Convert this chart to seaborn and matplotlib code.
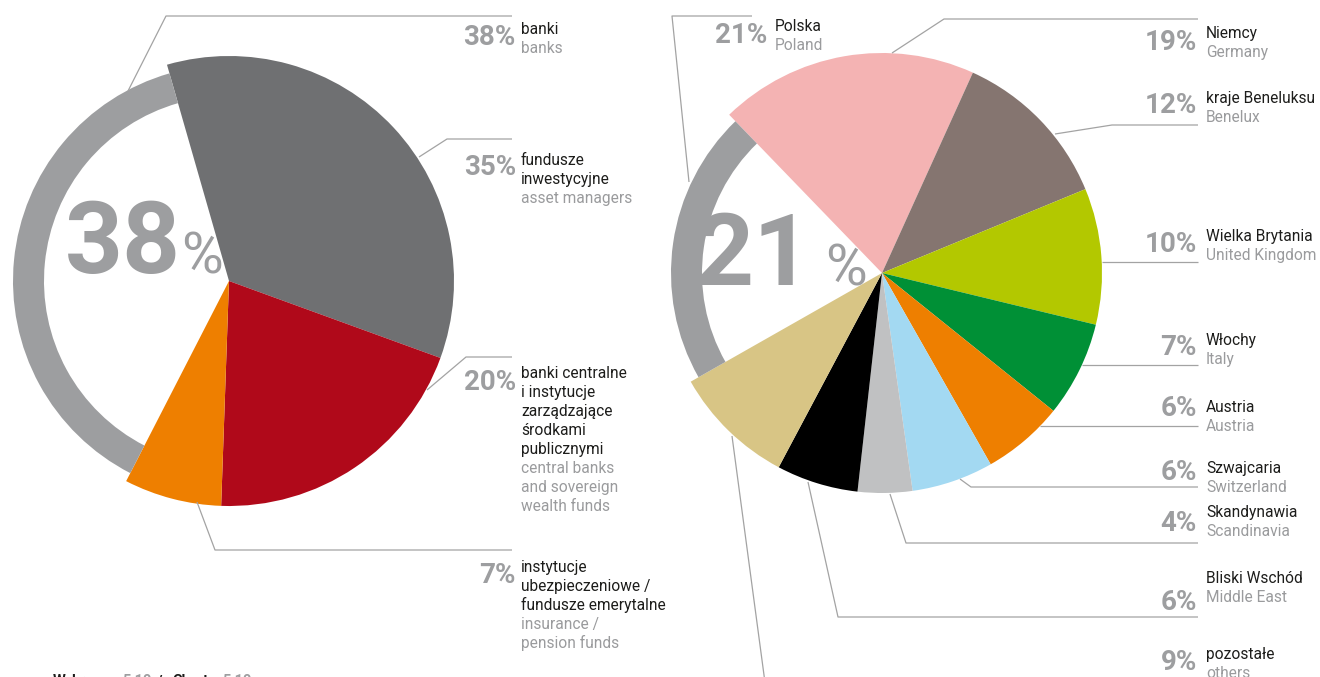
import matplotlib
matplotlib.use("Agg")
import matplotlib.pyplot as plt
import seaborn as sns

sns.set_theme(style="white")
plt.rcParams["font.family"] = ["Roboto", "DejaVu Sans"]

W, H = 1320, 677

# ---- investor types (wedge order: clockwise from the top) ----
inv_pct = [35, 20, 7, 38]
inv_pl = [
    ["fundusze", "inwestycyjne"],
    ["banki centralne", "i instytucje", "zarządzające", "środkami", "publicznymi"],
    ["instytucje", "ubezpieczeniowe /", "fundusze emerytalne"],
    ["banki"],
]
inv_en = [
    ["asset managers"],
    ["central banks", "and sovereign", "wealth funds"],
    ["insurance /", "pension funds"],
    ["banks"],
]
inv_colors = ["#6f7072", "#b0091a", "#ee7f00", "none"]

# ---- investor geography ----
geo_pct = [19, 12, 10, 7, 6, 6, 4, 6, 9, 21]
geo_pl = ["Niemcy", "kraje Beneluksu", "Wielka Brytania", "Włochy", "Austria",
          "Szwajcaria", "Skandynawia", "Bliski Wschód", "pozostałe", "Polska"]
geo_en = ["Germany", "Benelux", "United Kingdom", "Italy", "Austria",
          "Switzerland", "Scandinavia", "Middle East", "others", "Poland"]
geo_colors = ["#f4b3b3", "#857570", "#b3c800", "#009036", "#ee7f00",
              "#a3d9f2", "#c0c1c2", "#000000", "#d8c585", "none"]

RING = "#9d9ea0"
LINE = "#a3a3a3"
PCT = "#9d9ea0"
DARK = "#1d1d1b"
LIGHT = "#9a9b9d"

fig = plt.figure(figsize=(W / 100, H / 100), dpi=100)
ax = fig.add_axes([0, 0, 1, 1])


def P(x, y):
    """Convert top-left pixel layout to data coordinates."""
    return x, H - y


def ring_colors(colors):
    return ["none" if c != "none" else RING for c in colors]


def draw_pie(values, colors, center, radius, ring_r, ring_w, start):
    cx, cy = P(*center)
    ax.pie(values, colors=colors, startangle=start, counterclock=False,
           radius=radius, center=(cx, cy), wedgeprops=dict(linewidth=0))
    ax.pie(values, colors=ring_colors(colors), startangle=start, counterclock=False,
           radius=ring_r, center=(cx, cy),
           wedgeprops=dict(width=ring_w, linewidth=0))


draw_pie(inv_pct, inv_colors, (229, 281), 225, 216, 31, 106)
draw_pie(geo_pct, geo_colors, (882, 273), 220, 211, 31, 134)


def leader(points):
    xs, ys = zip(*[P(x, y) for x, y in points])
    ax.plot(xs, ys, color=LINE, lw=0.9, solid_capstyle="butt")


def label(pct, pl_lines, en_lines, tx, px_right, base, pct_base, step=19):
    ax.text(*P(px_right, pct_base), f"{pct}%", ha="right", va="baseline",
            fontsize=20, fontweight="bold", color=PCT)
    y = base
    for s in pl_lines:
        ax.text(*P(tx, y), s, ha="left", va="baseline", fontsize=11.2, color=DARK)
        y += step
    for s in en_lines:
        ax.text(*P(tx, y), s, ha="left", va="baseline", fontsize=11.2, color=LIGHT)
        y += step


# big share of the highlighted slice
def big_share(value, num_right, pct_left, base):
    ax.text(*P(num_right, base), f"{value}", ha="right", va="baseline",
            fontsize=73, fontweight="bold", color=PCT)
    ax.text(*P(pct_left, base), "%", ha="left", va="baseline",
            fontsize=41, color=PCT)


big_share(inv_pct[3], 181, 181, 273)
big_share(geo_pct[9], 812, 825, 285)

# leader lines, left chart
leader([(128, 91), (166, 16), (512, 16)])
leader([(419, 157), (447, 139), (512, 139)])
leader([(427, 390), (466, 357), (512, 357)])
leader([(197, 502), (215, 550), (512, 550)])

# labels, left chart (text baselines in px)
left_layout = [(165, 175), (378, 390), (572, 583), (34, 45)]
for i, (b, pb) in enumerate(left_layout):
    label(inv_pct[i], inv_pl[i], inv_en[i], 521, 516, b, pb)

# leader lines, right chart
leader([(689, 182), (672, 16), (752, 16)])
leader([(892, 53), (944, 19), (1198, 19)])
leader([(1055, 134), (1112, 125), (1198, 125)])
leader([(1102, 262), (1198, 262)])
leader([(1082, 365), (1198, 365)])
leader([(1040, 426), (1198, 426)])
leader([(960, 479), (971, 487), (1198, 487)])
leader([(890, 494), (906, 543), (1198, 543)])
leader([(808, 482), (838, 617), (1198, 617)])
leader([(732, 436), (766, 690)])

right_layout = [(38, 50), (103, 113), (241, 252), (345, 355), (412, 416),
                (473, 480), (517, 531), (583, 610), (659, 670)]
for i, (b, pb) in enumerate(right_layout):
    label(geo_pct[i], [geo_pl[i]], [geo_en[i]], 1206, 1197, b, pb)
label(geo_pct[9], [geo_pl[9]], [geo_en[9]], 775, 767, 31, 43)

# chart caption, running off the bottom edge
for x, s, c in [(53, "Wykres", DARK), (122, "5.10", PCT), (156, "/", DARK),
                (172, "Chart", DARK), (222, "5.10", PCT)]:
    ax.text(*P(x, 674), s, ha="left", va="top", fontsize=10.5,
            fontweight="bold", color=c)

ax.set_xlim(0, W)
ax.set_ylim(0, H)
ax.set_aspect("equal")
ax.axis("off")

fig.savefig("out.png", dpi=100)
